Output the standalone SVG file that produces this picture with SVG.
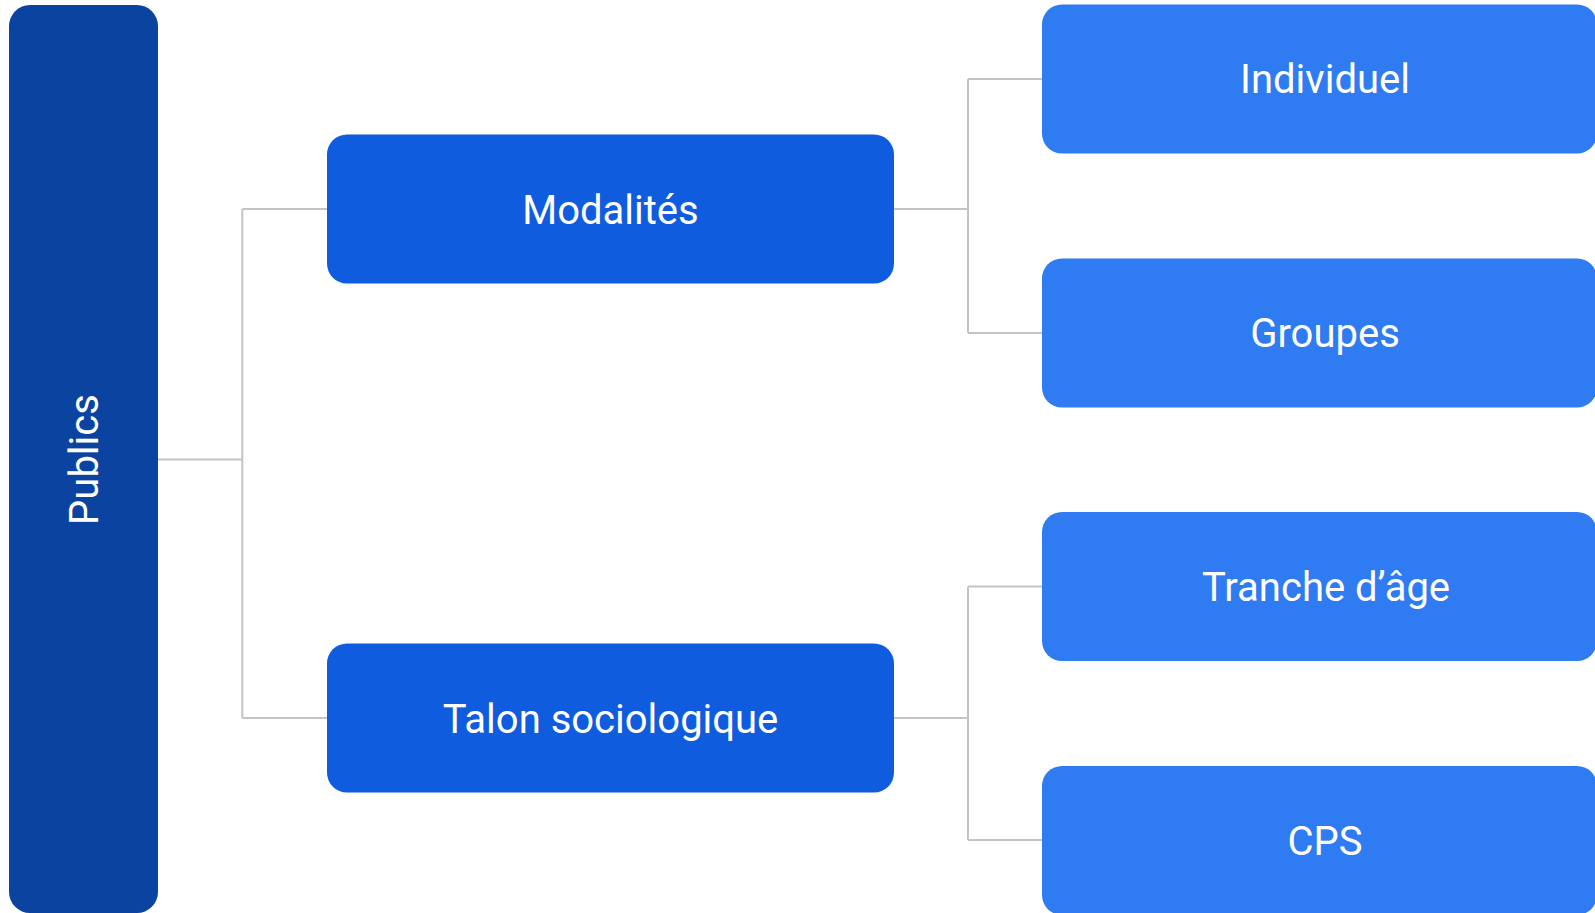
<svg xmlns="http://www.w3.org/2000/svg" width="1595" height="913" viewBox="0 0 1595 913">
<style>
.lbl{font-family:Roboto,"Liberation Sans",sans-serif;font-size:40px;fill:#ffffff;text-anchor:middle}
.conn{fill:none;stroke:#C4C4C4;stroke-width:2}
.root{fill:#0B43A0}
.mid{fill:#0F5CDE}
.leaf{fill:#2F7BF2}
</style>
<rect width="1595" height="913" fill="#ffffff"/>
<g id="connectors">
<path class="conn" d="M158 459.5H242.3M242.3 209V718M242.3 209H327M242.3 718H327"/>
<path class="conn" d="M894 209H968M968 79V333M968 79H1042M968 333H1042"/>
<path class="conn" d="M894 718H968M968 586.5V840M968 586.5H1042M968 840H1042"/>
</g>
<g id="publics">
<rect class="root" x="9" y="5" width="149" height="908" rx="21"/>
<text class="lbl" transform="translate(97.5 459.5) rotate(-90)">Publics</text>
</g>
<g id="modalites">
<rect class="mid" x="327" y="134.5" width="567" height="149" rx="20"/>
<text class="lbl" x="610.5" y="223.5">Modalités</text>
</g>
<g id="talon">
<rect class="mid" x="327" y="643.5" width="567" height="149" rx="20"/>
<text class="lbl" x="610.5" y="732.5">Talon sociologique</text>
</g>
<g id="individuel">
<rect class="leaf" x="1042" y="4.5" width="555" height="149" rx="20"/>
<text class="lbl" x="1325" y="93">Individuel</text>
</g>
<g id="groupes">
<rect class="leaf" x="1042" y="258.5" width="555" height="149" rx="20"/>
<text class="lbl" x="1325" y="347">Groupes</text>
</g>
<g id="tranche">
<rect class="leaf" x="1042" y="512" width="555" height="149" rx="20"/>
<text class="lbl" x="1326" y="600.5">Tranche d’âge</text>
</g>
<g id="cps">
<rect class="leaf" x="1042" y="766" width="555" height="149" rx="20"/>
<text class="lbl" x="1325" y="854.5">CPS</text>
</g>
</svg>
